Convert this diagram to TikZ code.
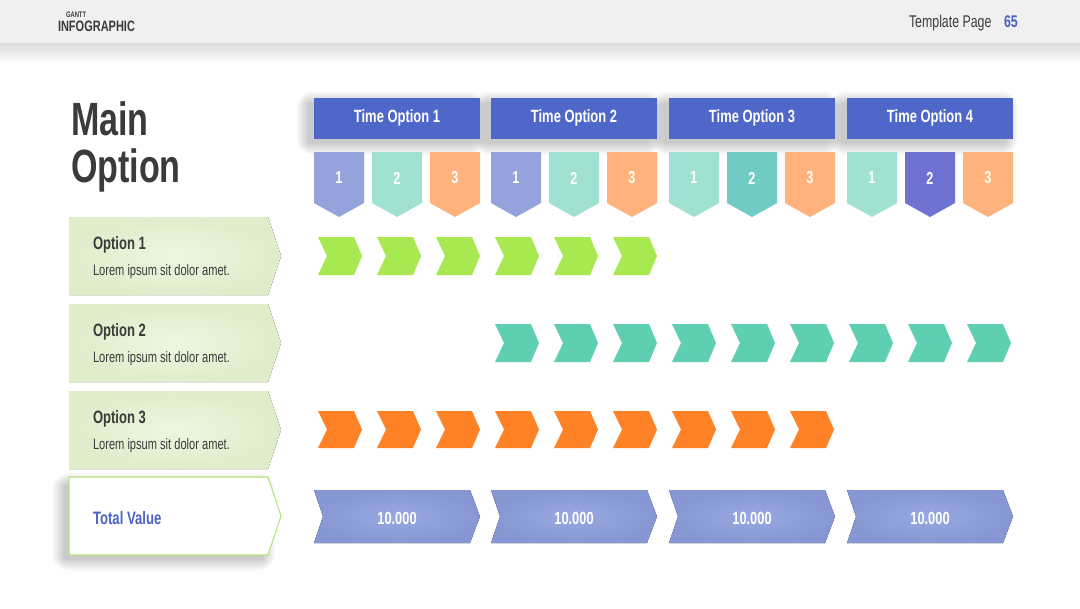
\documentclass[tikz,border=0pt]{standalone}
\usepackage{fontspec}
\setmainfont{Liberation Sans}[FakeStretch=0.73]
\definecolor{bandgray}{HTML}{F0F0F0}
\definecolor{shadegray}{HTML}{DADADA}
\definecolor{headblue}{HTML}{4F67C8}
\definecolor{penA}{HTML}{95A3DC}
\definecolor{penB}{HTML}{A1E1D1}
\definecolor{penC}{HTML}{FFB27B}
\definecolor{penD}{HTML}{70CBC5}
\definecolor{penE}{HTML}{6F72D1}
\definecolor{chevgreen}{HTML}{A8E850}
\definecolor{chevteal}{HTML}{5ED0B1}
\definecolor{chevorange}{HTML}{FF8226}
\definecolor{txtdark}{HTML}{3B3B3B}
\definecolor{txtblue}{HTML}{4B62C4}
\definecolor{optin}{HTML}{ECF7E0}
\definecolor{optout}{HTML}{DFEDCB}
\definecolor{totborder}{HTML}{B3E27A}
\definecolor{valin}{HTML}{98A8E0}
\definecolor{valout}{HTML}{8797D3}
\begin{document}
\begin{tikzpicture}[x=0.75pt,y=-0.75pt,
  txt/.style={inner sep=0pt,outer sep=0pt},
  softshadow/.style={fill=black,opacity=0.014},
  headbox/.style={fill=headblue},
  optbox/.style={inner color=optin,outer color=optout},
  totbox/.style={fill=white,draw=totborder,line width=0.8pt},
  valbox/.style={inner color=valin,outer color=valout},
  headtxt/.style={txt,text=white,font=\bfseries\fontsize{13.3}{15}\selectfont},
  pentxt/.style={txt,text=white,font=\bfseries\fontsize{13}{15}\selectfont},
  opttitle/.style={txt,anchor=base west,text=txtdark,font=\bfseries\fontsize{13.4}{15}\selectfont},
  optbody/.style={txt,anchor=base west,text=txtdark,font=\fontsize{11.4}{13}\selectfont},
  valtxt/.style={txt,text=white,font=\bfseries\fontsize{13.2}{15}\selectfont}]
\useasboundingbox (0,0) rectangle (1080,608);
\fill[white] (0,0) rectangle (1080,608);
% header band
\fill[top color=shadegray,bottom color=white] (0,42) rectangle (1080,64);
\fill[bandgray] (0,0) rectangle (1080,43);
\node[txt,anchor=base west,text=txtdark,font=\bfseries\fontsize{6}{7}\selectfont] (gantt) at (66,17) {GANTT};
\node[txt,anchor=base west,text=txtdark,font=\bfseries\fontsize{11.3}{13}\selectfont] (infog) at (58,31) {INFOGRAPHIC};
\node[txt,anchor=base west,text=txtdark,font=\fontsize{12.7}{14}\selectfont] (tpage) at (909,27) {Template Page};
\node[txt,anchor=base west,text=txtblue,font=\bfseries\fontsize{12.7}{14}\selectfont] (pnum) at (1004,27) {65};
% title
\node[txt,anchor=base west,text=txtdark,font=\bfseries\fontsize{35}{40}\selectfont] (main1) at (71,135) {Main};
\node[txt,anchor=base west,text=txtdark,font=\bfseries\fontsize{35}{40}\selectfont] (main2) at (71,182) {Option};
% time option headers: soft shadows
\foreach \x in {314,491,669,847}{
  \foreach \k in {1,...,13}{
    \fill[softshadow,rounded corners=\k] (\x-5-\k,104-\k) rectangle (\x+158+\k,142+\k);
  }
}
\foreach \x/\n in {314/1,491/2,669/3,847/4}{
  \fill[headbox] (\x,98) rectangle ++(166,41);
  \node[headtxt] (time\n) at (\x+83,118) {Time Option \n};
}
% pennants
\foreach \x/\c/\k/\g in {314/penA/1/1,372/penB/2/1,430/penC/3/1,
                      491/penA/1/2,549/penB/2/2,607/penC/3/2,
                      669/penB/1/3,727/penD/2/3,785/penC/3/3,
                      847/penB/1/4,905/penE/2/4,963/penC/3/4}{
  \fill[\c] (\x,152) -- (\x+50,152) -- (\x+50,203) -- (\x+25,217) -- (\x,203) -- cycle;
  \node[pentxt] (pen\g-\k) at (\x+25,178) {\k};
}
% option boxes
\foreach \y/\n in {217/1,304/2,391/3}{
  \fill[optbox] (69,\y) -- (268,\y) -- (281,\y+39) -- (268,\y+78) -- (69,\y+78) -- cycle;
  \node[opttitle] (opt\n) at (93,\y+32) {Option \n};
  \node[optbody] (lorem\n) at (93,\y+58) {Lorem ipsum sit dolor amet.};
}
% total value box
\foreach \k in {1,...,13}{
  \fill[softshadow,rounded corners=\k] (65-\k,486-\k) rectangle (262+\k,558+\k);
}
\filldraw[totbox] (69,477) -- (268,477) -- (281,516) -- (268,555) -- (69,555) -- cycle;
\node[txt,anchor=base west,text=txtblue,font=\bfseries\fontsize{13.5}{15}\selectfont] (total) at (93,524) {Total Value};
% chevron rows
\foreach \i in {0,...,5}{
  \fill[chevgreen] (318+59*\i,237) -- ++(36,0) -- ++(8,19) -- ++(-8,19) -- ++(-36,0) -- ++(9,-19) -- cycle;
}
\foreach \i in {3,...,11}{
  \fill[chevteal] (318+59*\i,324) -- ++(36,0) -- ++(8,19) -- ++(-8,19) -- ++(-36,0) -- ++(9,-19) -- cycle;
}
\foreach \i in {0,...,8}{
  \fill[chevorange] (318+59*\i,411) -- ++(36,0) -- ++(8,18.5) -- ++(-8,18.5) -- ++(-36,0) -- ++(9,-18.5) -- cycle;
}
% value chevrons
\foreach \x/\n in {314/1,491/2,669/3,847/4}{
  \fill[valbox] (\x,490) -- (\x+156,490) -- (\x+166,516.5) -- (\x+156,543) -- (\x,543) -- (\x+9,516.5) -- cycle;
  \node[valtxt] (val\n) at (\x+83,518) {10.000};
}
\end{tikzpicture}
\end{document}
